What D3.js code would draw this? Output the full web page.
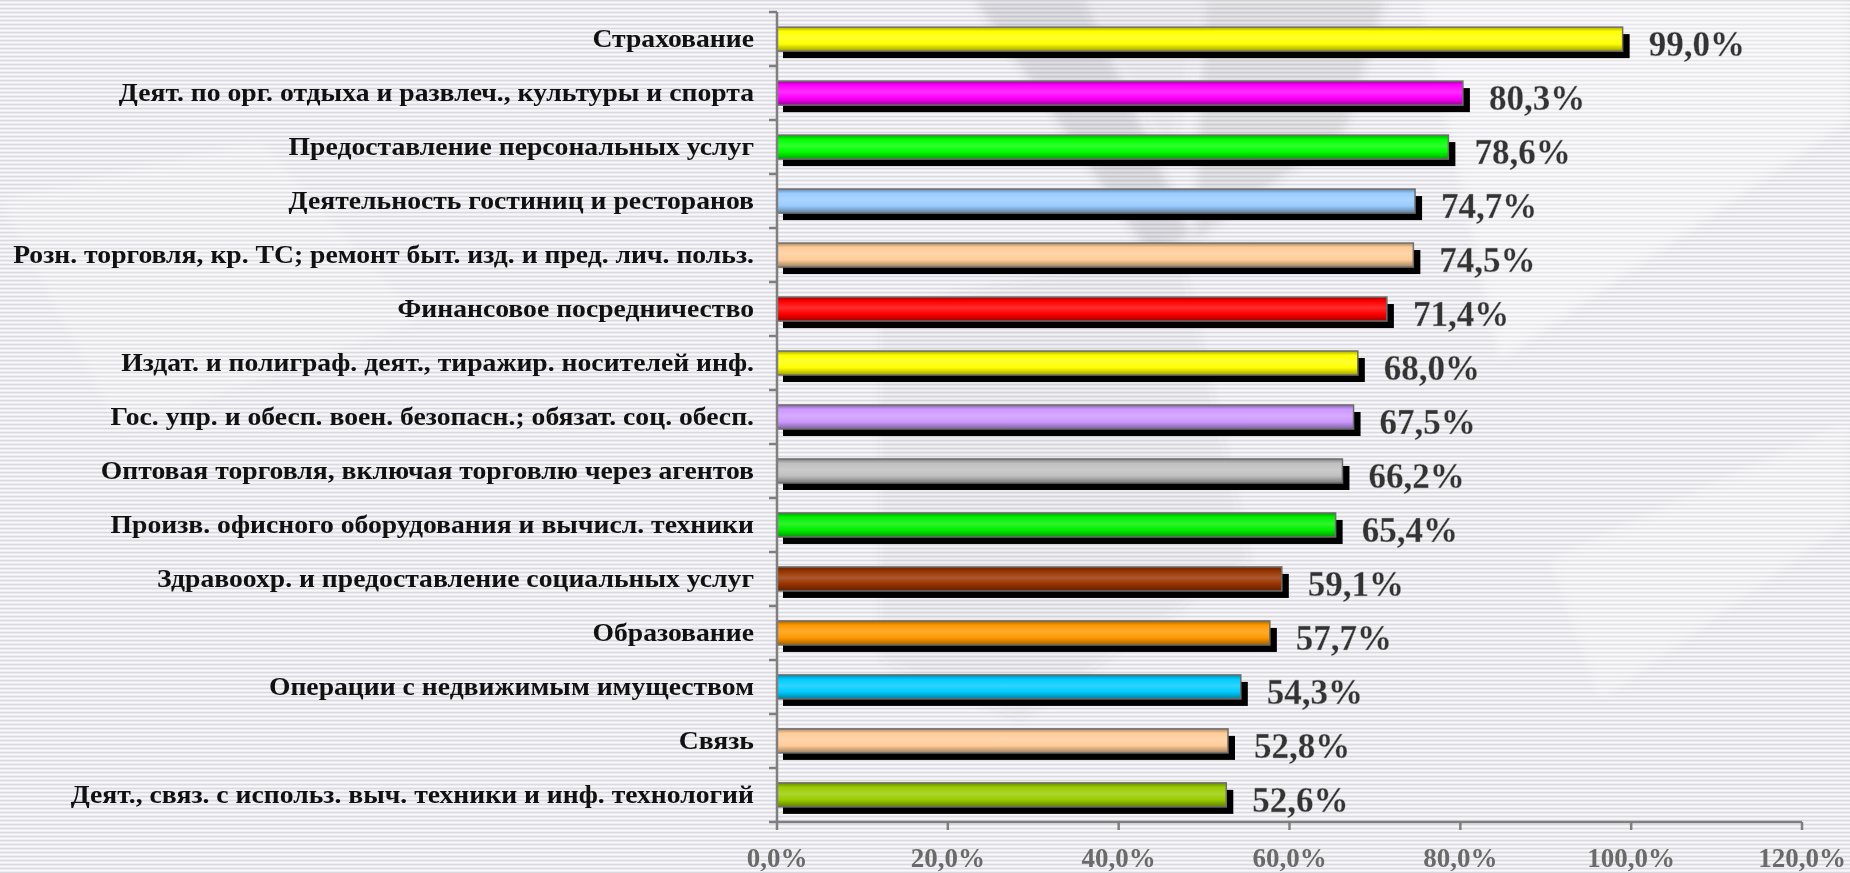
<!DOCTYPE html>
<html><head><meta charset="utf-8">
<script src="https://cdn.jsdelivr.net/npm/d3@7"></script>
<style>html,body{margin:0;padding:0;background:#ececef;overflow:hidden}</style>
</head><body>
<svg id="c" width="1850" height="873"></svg>
<script>
const categories = [
  "Страхование",
  "Деят. по орг. отдыха и развлеч., культуры и спорта",
  "Предоставление персональных услуг",
  "Деятельность гостиниц и ресторанов",
  "Розн. торговля, кр. ТС; ремонт быт. изд. и пред. лич. польз.",
  "Финансовое посредничество",
  "Издат. и полиграф. деят., тиражир. носителей инф.",
  "Гос. упр. и обесп. воен. безопасн.; обязат. соц. обесп.",
  "Оптовая торговля, включая торговлю через агентов",
  "Произв. офисного оборудования и вычисл. техники",
  "Здравоохр. и предоставление социальных услуг",
  "Образование",
  "Операции с недвижимым имуществом",
  "Связь",
  "Деят., связ. с использ. выч. техники и инф. технологий"
];
const values = [99.0, 80.3, 78.6, 74.7, 74.5, 71.4, 68.0, 67.5, 66.2, 65.4, 59.1, 57.7, 54.3, 52.8, 52.6];
const colors = ["#ffff00","#ff00ff","#00ff00","#99ccff","#ffcc99","#ff0000","#ffff00","#cc99ff","#c0c0c0","#00f000","#993300","#ff9900","#00ccff","#ffcc99","#99cc00"];
const xTicks = [0, 20, 40, 60, 80, 100, 120];

const svg = d3.select("#c");
const W = 1850, H = 873;
const M = {left: 777, right: 48, top: 12, bottom: 51};
const defs = svg.append("defs");

// striped background
const pat = defs.append("pattern").attr("id","stripes").attr("width",8).attr("height",4).attr("patternUnits","userSpaceOnUse");
pat.append("rect").attr("width",8).attr("height",4).attr("fill","#ececf0");
pat.append("rect").attr("y",0).attr("width",8).attr("height",1).attr("fill","#d9d9df");
pat.append("rect").attr("y",2).attr("width",8).attr("height",1.2).attr("fill","#f8f8fa");
svg.append("rect").attr("width",W).attr("height",H).attr("fill","url(#stripes)");

const blur = defs.append("filter").attr("id","blur").attr("x","-20%").attr("y","-20%").attr("width","140%").attr("height","140%");
blur.append("feGaussianBlur").attr("stdDeviation",5);

// faint decorative background shapes
const bg = svg.append("g").attr("filter","url(#blur)");
const shapes = [
  {p:[[975,0],[1085,0],[1190,235],[1150,255]], o:0.15, f:"#505058"},
  {p:[[1205,0],[1385,0],[1345,130],[1195,240]], o:0.12, f:"#505058"},
  {p:[[1085,0],[1205,0],[1170,160]], o:0.04, f:"#505058"},
  {p:[[880,310],[1180,250],[1250,560],[1020,720],[880,660]], o:0.045, f:"#505058"},
  {p:[[1420,0],[1850,0],[1850,120],[1500,360]], o:0.35, f:"#ffffff"},
  {p:[[1550,560],[1850,420],[1850,520],[1600,700]], o:0.25, f:"#ffffff"},
  {p:[[0,200],[260,140],[420,320],[120,430]], o:0.2, f:"#ffffff"}
];
shapes.forEach(s => bg.append("path").attr("d", d3.line()(s.p)+"Z").attr("fill", s.f).attr("opacity", s.o));

const x = d3.scaleLinear().domain([0,120]).range([M.left, W - M.right]);
const y = d3.scaleBand().domain(categories).range([M.top, H - M.bottom]).paddingInner(0.555).paddingOuter(0.28);
const band = d3.scaleBand().domain(categories).range([M.top, H - M.bottom]);

// gradients per bar
colors.forEach((c,i) => {
  const g = defs.append("linearGradient").attr("id","g"+i).attr("x1",0).attr("y1",0).attr("x2",0).attr("y2",1);
  const base = d3.color(c);
  const stops = [
    [0, base.darker(1.1)], [0.18, base], [0.45, d3.color(d3.interpolateRgb(c,"#ffffff")(0.18))],
    [0.7, base], [0.88, base.darker(0.7)], [1, base.darker(1.3)]
  ];
  stops.forEach(s => g.append("stop").attr("offset", s[0]).attr("stop-color", s[1].toString()));
});

const bars = svg.append("g");
bars.selectAll("rect.sh").data(values).join("rect").attr("class","sh")
  .attr("x", x(0)+6).attr("y", (d,i)=>y(categories[i])+7)
  .attr("width", d => x(d)-x(0)+1).attr("height", y.bandwidth())
  .attr("fill","#000");
bars.selectAll("rect.b").data(values).join("rect").attr("class","b")
  .attr("x", x(0)).attr("y", (d,i)=>y(categories[i]))
  .attr("width", d => x(d)-x(0)).attr("height", y.bandwidth())
  .attr("fill", (d,i)=>"url(#g"+i+")")
  .attr("stroke","#6e6e6e").attr("stroke-width",1.5);

// axes
const axisColor = "#7f7f7f";
const ax = svg.append("g");
ax.append("line").attr("x1",x(0)).attr("x2",x(0)).attr("y1",M.top).attr("y2",H-M.bottom).attr("stroke",axisColor).attr("stroke-width",2.5);
ax.append("line").attr("x1",x(0)).attr("x2",x(120)).attr("y1",H-M.bottom).attr("y2",H-M.bottom).attr("stroke",axisColor).attr("stroke-width",2.5);
const yTickPos = categories.map(c => band(c)).concat([H - M.bottom]);
ax.selectAll("line.yt").data(yTickPos).join("line").attr("class","yt")
  .attr("x1",x(0)-8).attr("x2",x(0)).attr("y1",d=>d).attr("y2",d=>d).attr("stroke",axisColor).attr("stroke-width",2.5);
ax.selectAll("line.xt").data(xTicks).join("line").attr("class","xt")
  .attr("x1",d=>x(d)).attr("x2",d=>x(d)).attr("y1",H-M.bottom).attr("y2",H-M.bottom+8).attr("stroke",axisColor).attr("stroke-width",2.5);

const fmt = v => v.toFixed(1).replace(".", ",") + "%";
const serif = "'Liberation Serif','Times New Roman',serif";

ax.selectAll("text.xl").data(xTicks).join("text").attr("class","xl")
  .attr("x",d=>x(d)).attr("y",H-M.bottom+45)
  .attr("text-anchor","middle").attr("font-family",serif).attr("font-weight","bold")
  .attr("font-size",27).attr("fill","#6a6a6a").text(d=>fmt(d));

// category labels
const cl = svg.append("g");
const labels = cl.selectAll("text").data(categories).join("text")
  .attr("text-anchor","end").attr("font-family",serif).attr("font-weight","bold")
  .attr("font-size",24.5).attr("fill","#111")
  .text(d=>d);
let maxW = 0;
labels.each(function(){ maxW = Math.max(maxW, this.getComputedTextLength()); });
const sx = 741 / maxW;
labels.attr("transform", d => `translate(${x(0)-23},${y(d)+y.bandwidth()/2+8}) scale(${sx},1)`);

// value labels
svg.append("g").selectAll("text").data(values).join("text")
  .attr("x", d => x(d)+26).attr("y",(d,i)=>y(categories[i])+y.bandwidth()/2+17)
  .attr("font-family",serif).attr("font-weight","bold").attr("font-size",35)
  .attr("fill","#333").attr("stroke","#bbb").attr("stroke-width",0.3)
  .text(d=>fmt(d));
</script>
</body></html>
